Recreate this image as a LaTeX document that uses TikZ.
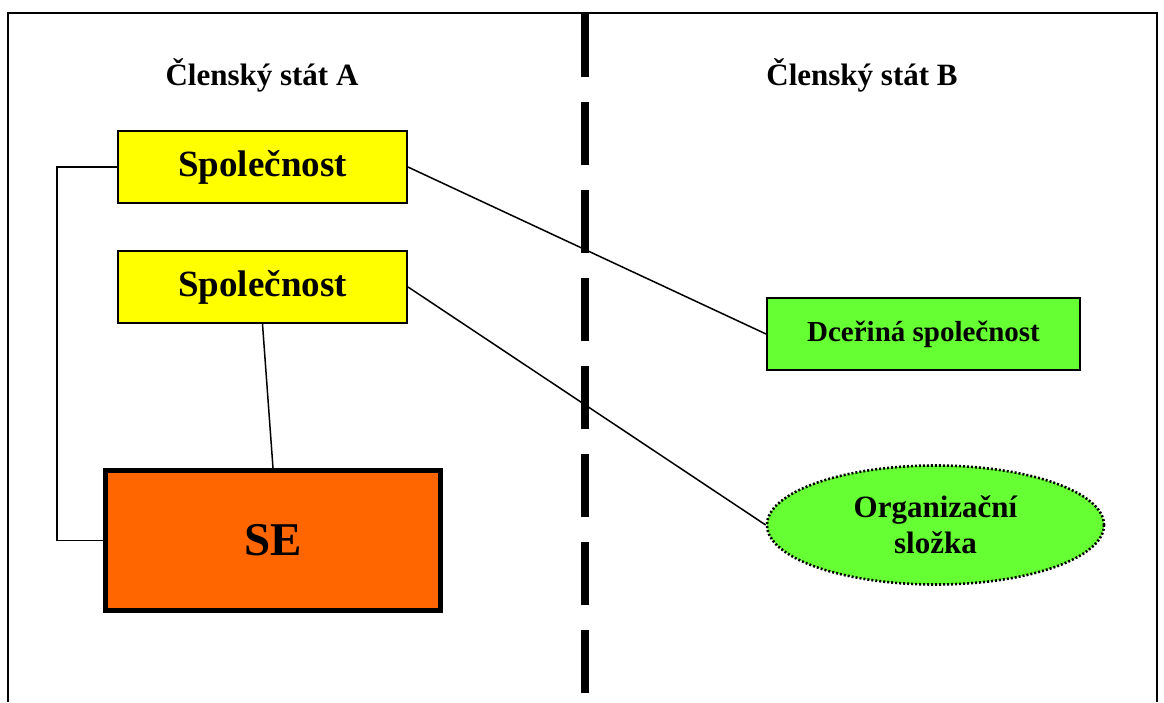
\documentclass[tikz,border=0pt]{standalone}
\usepackage{fontspec}
\setmainfont{Liberation Serif}
\usetikzlibrary{shapes.geometric}
\definecolor{spolyellow}{HTML}{FFFF00}
\definecolor{dceragreen}{HTML}{66FF33}
\definecolor{seorange}{HTML}{FF6600}

\begin{document}
\begin{tikzpicture}[x=1pt, y=-1pt,
		spolbox/.style={draw, line width=2pt, fill=spolyellow, minimum width=289pt, minimum height=72pt, inner sep=0pt, font=\fontsize{37}{40}\selectfont\bfseries},
		dcerabox/.style={draw, line width=2pt, fill=dceragreen, minimum width=313pt, minimum height=72pt, inner sep=0pt, font=\fontsize{29}{32}\selectfont\bfseries},
		orgell/.style={ellipse, draw, line width=2.6pt, dash pattern=on 2pt off 2pt, fill=dceragreen, minimum width=337pt, minimum height=119pt, inner sep=0pt, align=center, font=\fontsize{31}{36}\selectfont\bfseries},
		sebox/.style={draw, line width=5pt, fill=seorange, minimum width=335pt, minimum height=140pt, inner sep=0pt, font=\fontsize{47}{50}\selectfont\bfseries},
		title/.style={font=\fontsize{31}{34}\selectfont\bfseries},
		link/.style={line width=1.5pt}
	]
				\useasboundingbox (0,0) rectangle (1164,702);
				\draw[line width=2pt] (8,702) -- (8,13) -- (1157,13) -- (1157,702);
				\draw[line width=8pt, dash pattern=on 63pt off 25pt] (585,14) -- (585,702);
				\node[title] (statA) at (262,75) {Členský stát A};
				\node[title] (statB) at (862,75) {Členský stát B};
				\node[spolbox] (spolA) at (262.5,167) {Společnost};
				\node[spolbox] (spolB) at (262.5,287) {Společnost};
				\node[dcerabox] (dcera) at (923.5,334) {Dceřiná společnost};
				\node[orgell] (org) at (935.5,525) {Organizační\\složka};
				\node[sebox] (se) at (273,540.5) {SE};
				\draw[link] (spolA.west) -- ++(-60,0) |- (se.west);
				\draw[link] (spolB.south) -- (se.north);
				\draw[link] (spolA.east) -- (dcera.west);
				\draw[link] (spolB.east) -- (org.west);
			\end{tikzpicture}
\end{document}
